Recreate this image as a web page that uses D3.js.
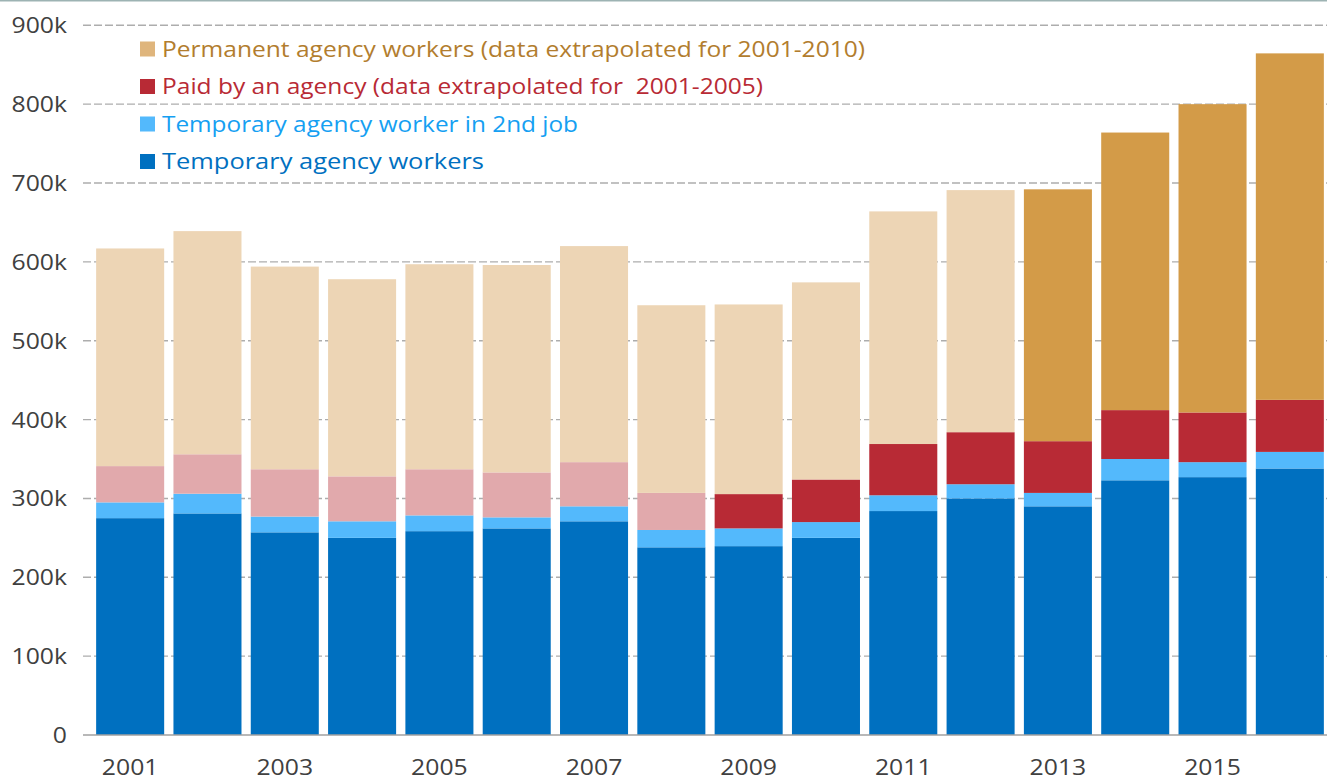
<!DOCTYPE html>
<html>
<head>
<meta charset="utf-8">
<script src="https://cdn.jsdelivr.net/npm/d3@7/dist/d3.min.js"></script>
<style>
  html, body { margin: 0; padding: 0; background: #fff; }
  svg { display: block; }
  text { font-family: "Open Sans", "Liberation Sans", sans-serif; }
</style>
</head>
<body>
<svg id="chart" width="1327" height="781"></svg>
<script>
// ---- Data (thousands) ----
const years = [2001,2002,2003,2004,2005,2006,2007,2008,2009,2010,2011,2012,2013,2014,2015,2016];
const tempWorkers   = [275, 281, 257, 250, 258.5, 262, 271, 238, 239.5, 250, 284, 300, 290, 323, 327, 338];
const tempSecondJob = [20, 25, 20, 21, 20, 14, 19, 22, 22.5, 20, 20, 18, 17, 27, 19, 21];
const paidByAgency  = [46, 50, 60, 57, 58.5, 57, 56, 47, 43.5, 54, 65, 66, 65.6, 62, 63, 66];
const permanentAgency = [276, 283, 257, 250, 260, 263, 274, 238, 240.5, 250, 295, 307, 319.4, 352, 391, 439.4];
const paidExtrapolated = [true,true,true,true,true,true,true,true,false,false,false,false,false,false,false,false];
const permExtrapolated = [true,true,true,true,true,true,true,true,true,true,true,true,false,false,false,false];
const yTicks = [0,100,200,300,400,500,600,700,800,900];
const yTickLabels = ["0","100k","200k","300k","400k","500k","600k","700k","800k","900k"];
const xTickYears = [2001,2003,2005,2007,2009,2011,2013,2015];
const legendLabels = [
  "Permanent agency workers (data extrapolated for 2001-2010)",
  "Paid by an agency (data extrapolated for  2001-2005)",
  "Temporary agency worker in 2nd job",
  "Temporary agency workers"
];

// ---- Styles ----
const colTemp = "#0070C0", col2nd = "#53B9FC";
const colPaid = "#B82A35", colPaidPale = "#E1A9AC";
const colPerm = "#D39B48", colPermPale = "#EDD5B5";
const legendSwatch = ["#DFB57C", colPaid, col2nd, colTemp];
const legendText = ["#B27D2E", "#B82A35", "#15A0F2", "#0070C0"];

const svg = d3.select("#chart");

const x = d3.scaleBand().domain(years).range([91.5, 1328.5]).paddingInner(0.12).paddingOuter(0.06);
const y = d3.scaleLinear().domain([0, 900]).range([735, 25.3]);

// top thin line
svg.append("line").attr("x1", 0).attr("x2", 1327).attr("y1", 0.75).attr("y2", 0.75)
  .attr("stroke", "#9DB3B3").attr("stroke-width", 1.5);

// gridlines
const grid = svg.append("g");
grid.selectAll("line").data(yTicks.filter(d => d > 0)).join("line")
  .attr("x1", 83).attr("x2", 1327)
  .attr("y1", d => y(d)).attr("y2", d => y(d))
  .attr("stroke", "#ADADAD").attr("stroke-width", 1.4).attr("stroke-dasharray", "8,3");

// stacked data
const rows = years.map((yr, i) => ({
  year: yr, temp: tempWorkers[i], second: tempSecondJob[i], paid: paidByAgency[i], perm: permanentAgency[i], i
}));
const keys = ["temp", "second", "paid", "perm"];
const stacked = d3.stack().keys(keys)(rows);

function fillFor(key, d) {
  const i = d.data.i;
  if (key === "temp") return colTemp;
  if (key === "second") return col2nd;
  if (key === "paid") return paidExtrapolated[i] ? colPaidPale : colPaid;
  return permExtrapolated[i] ? colPermPale : colPerm;
}

svg.append("g").selectAll("g").data(stacked).join("g")
  .each(function(series) {
    d3.select(this).selectAll("rect").data(series).join("rect")
      .attr("x", d => x(d.data.year))
      .attr("width", x.bandwidth())
      .attr("y", d => y(d[1]))
      .attr("height", d => y(d[0]) - y(d[1]))
      .attr("fill", d => fillFor(series.key, d));
  });

// baseline axis
svg.append("line").attr("x1", 83).attr("x2", 1327).attr("y1", y(0)).attr("y2", y(0))
  .attr("stroke", "#A0A0A0").attr("stroke-width", 1.3);

function widen(sel, f) {
  sel.each(function() {
    const w = this.getComputedTextLength();
    d3.select(this).attr("textLength", w * f).attr("lengthAdjust", "spacingAndGlyphs");
  });
}

// y labels
const yl = svg.append("g").selectAll("text").data(yTicks).join("text")
  .attr("x", 67).attr("y", d => y(d) + 8)
  .attr("text-anchor", "end")
  .attr("font-size", 22.5).attr("fill", "#404040")
  .text((d, i) => yTickLabels[i]);
widen(yl, 1.1);

// x labels
const xl = svg.append("g").selectAll("text").data(xTickYears).join("text")
  .attr("x", d => x(d) + x.bandwidth() / 2).attr("y", 775)
  .attr("text-anchor", "middle")
  .attr("font-size", 22.5).attr("fill", "#404040")
  .text(d => d);
widen(xl, 1.1);

// legend
const legendBaselines = [56.5, 94, 131.5, 169];
const legendWidths = [703, 601, 416, 322];
const lg = svg.append("g");
legendLabels.forEach((lab, i) => {
  lg.append("rect").attr("x", 140).attr("y", legendBaselines[i] - 15).attr("width", 15).attr("height", 15)
    .attr("fill", legendSwatch[i]);
  lg.append("text").attr("x", 162).attr("y", legendBaselines[i])
    .attr("font-size", 22.5).attr("fill", legendText[i])
    .style("white-space", "pre")
    .attr("textLength", legendWidths[i]).attr("lengthAdjust", "spacingAndGlyphs")
    .text(lab);
});
</script>
</body>
</html>
